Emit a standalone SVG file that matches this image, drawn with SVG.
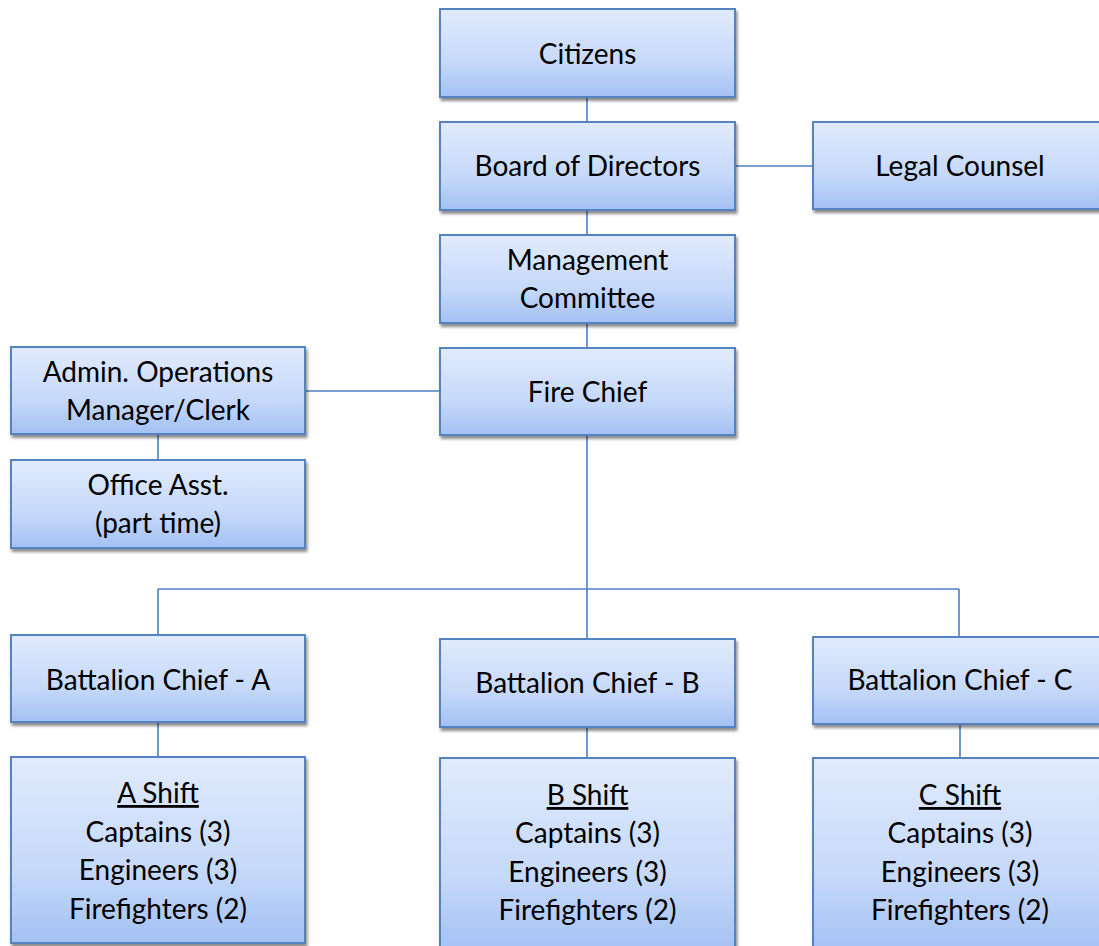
<svg xmlns="http://www.w3.org/2000/svg" width="1099" height="946" viewBox="0 0 1099 946">
<defs>
<linearGradient id="g" x1="0" y1="0" x2="0" y2="1">
<stop offset="0" stop-color="#e1ebfd"/>
<stop offset="0.6" stop-color="#c6d9f9"/>
<stop offset="1" stop-color="#a3c1f4"/>
</linearGradient>
<filter id="sh" x="-10%" y="-10%" width="125%" height="130%">
<feDropShadow dx="1.5" dy="3" stdDeviation="1.8" flood-color="#000" flood-opacity="0.45"/>
</filter>
</defs>
<style>
.box{fill:url(#g);stroke:#5583c2;stroke-width:2;filter:url(#sh)}
.t{font-family:Lato,"Open Sans",sans-serif;font-size:28px;fill:#000;text-anchor:middle}
.u{text-decoration:underline}
.c{stroke:#4f7fbf;stroke-width:1.6;fill:none}
</style>
<rect width="1099" height="946" fill="#fff"/>
<g id="connectors">
<line class="c" x1="587" y1="97" x2="587" y2="122"/>
<line class="c" x1="735" y1="166" x2="813" y2="166"/>
<line class="c" x1="587" y1="210" x2="587" y2="235"/>
<line class="c" x1="587" y1="323" x2="587" y2="348"/>
<line class="c" x1="305" y1="391" x2="440" y2="391"/>
<line class="c" x1="158" y1="434" x2="158" y2="460"/>
<line class="c" x1="587" y1="435" x2="587" y2="639"/>
<line class="c" x1="158" y1="589" x2="959" y2="589"/>
<line class="c" x1="158" y1="589" x2="158" y2="635"/>
<line class="c" x1="959" y1="589" x2="959" y2="637"/>
<line class="c" x1="158" y1="722" x2="158" y2="757"/>
<line class="c" x1="587" y1="727" x2="587" y2="758"/>
<line class="c" x1="960" y1="724" x2="960" y2="758"/>
</g>
<g id="citizens"><rect class="box" x="440" y="9" width="295" height="88"/><text class="t" x="587.5" y="64">Citizens</text></g>
<g id="board"><rect class="box" x="440" y="122" width="295" height="88"/><text class="t" x="587.5" y="176">Board of Directors</text></g>
<g id="legal"><rect class="box" x="813" y="122" width="295" height="87"/><text class="t" x="960" y="176">Legal Counsel</text></g>
<g id="management"><rect class="box" x="440" y="235" width="295" height="88"/><text class="t" x="587.5" y="270">Management</text><text class="t" x="587.5" y="308">Committee</text></g>
<g id="firechief"><rect class="box" x="440" y="348" width="295" height="87"/><text class="t" x="587.5" y="402">Fire Chief</text></g>
<g id="admin"><rect class="box" x="11" y="347" width="294" height="87"/><text class="t" x="158" y="382">Admin. Operations</text><text class="t" x="158" y="420">Manager/Clerk</text></g>
<g id="office"><rect class="box" x="11" y="460" width="294" height="88"/><text class="t" x="158" y="495">Office Asst.</text><text class="t" x="158" y="533">(part time)</text></g>
<g id="batA"><rect class="box" x="11" y="635" width="294" height="87"/><text class="t" x="158" y="690">Battalion Chief - A</text></g>
<g id="batB"><rect class="box" x="440" y="639" width="295" height="88"/><text class="t" x="587.5" y="693">Battalion Chief - B</text></g>
<g id="batC"><rect class="box" x="813" y="637" width="295" height="87"/><text class="t" x="960" y="690">Battalion Chief - C</text></g>
<g id="shiftA"><rect class="box" x="11" y="757" width="294" height="186"/><text class="t u" x="158" y="803">A Shift</text><text class="t" x="158" y="842">Captains (3)</text><text class="t" x="158" y="880">Engineers (3)</text><text class="t" x="158" y="919">Firefighters (2)</text></g>
<g id="shiftB"><rect class="box" x="440" y="758" width="295" height="195"/><text class="t u" x="587.5" y="805">B Shift</text><text class="t" x="587.5" y="843">Captains (3)</text><text class="t" x="587.5" y="882">Engineers (3)</text><text class="t" x="587.5" y="920">Firefighters (2)</text></g>
<g id="shiftC"><rect class="box" x="813" y="758" width="295" height="195"/><text class="t u" x="960" y="805">C Shift</text><text class="t" x="960" y="843">Captains (3)</text><text class="t" x="960" y="882">Engineers (3)</text><text class="t" x="960" y="920">Firefighters (2)</text></g>
</svg>
